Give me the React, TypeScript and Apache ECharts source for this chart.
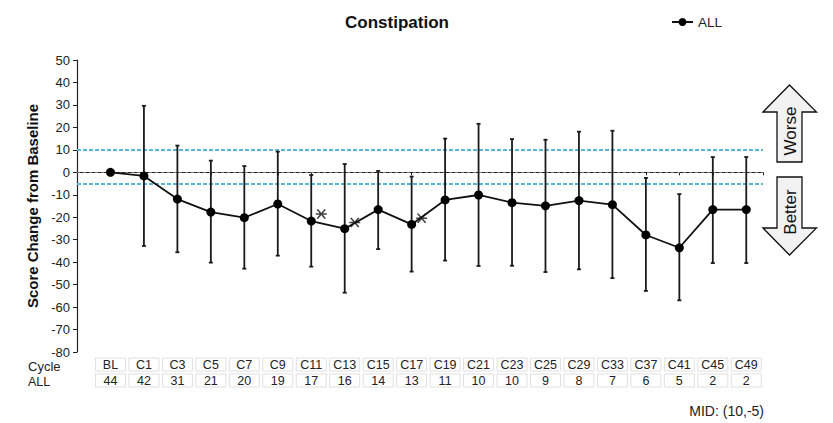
import React, { useEffect, useRef } from "react";
import * as echarts from "echarts";

const cycles = ["BL", "C1", "C3", "C5", "C7", "C9", "C11", "C13", "C15", "C17", "C19", "C21", "C23", "C25", "C29", "C33", "C37", "C41", "C45", "C49"];
const counts = [44, 42, 31, 21, 20, 19, 17, 16, 14, 13, 11, 10, 10, 9, 8, 7, 6, 5, 2, 2];
const means = [0, -1.6, -11.9, -17.7, -20.2, -14.1, -21.7, -25.1, -16.6, -23.2, -12.3, -10.1, -13.5, -14.9, -12.6, -14.4, -27.9, -33.6, -16.6, -16.6];
const upper = [null, 29.6, 11.9, 5.2, 2.8, 9.2, -1.2, 3.7, 0.6, -1.9, 15.0, 21.6, 14.8, 14.5, 18.1, 18.5, -2.5, -9.7, 6.8, 6.8];
const lower = [null, -32.8, -35.6, -40.2, -42.9, -37.1, -42.0, -53.6, -34.2, -44.2, -39.3, -41.7, -41.6, -44.4, -43.2, -47.1, -52.8, -57.0, -40.4, -40.4];
const sigCycles = ["C11", "C13", "C17"];
const sigValues = [-18.6, -22.3, -20.5];
const yTicks = { min: -80, max: 50, interval: 10 };
const midLines = [10, -5];

const FONT = "'Liberation Sans', Arial, sans-serif";
const ASTERISK =
  "path://M0,8.5L20,8.5L20,11.5L0,11.5Z M1.5,1.5L4,0L18.5,18.5L16,20Z M16,0L18.5,1.5L4,20L1.5,18.5Z";

export default function App() {
  const ref = useRef<HTMLDivElement>(null);
  useEffect(() => {
    document.body.style.margin = "0";
    const chart = echarts.init(ref.current!, null, { renderer: "svg" });
    const pos = (i: number) => i + 1;
    const lineData = means.map((m, i) => [pos(i), m]);
    const errData = cycles
      .map((_, i) => (upper[i] == null ? null : [pos(i), lower[i], upper[i]]))
      .filter((d) => d !== null);
    const starData = sigCycles.map((c, k) => [pos(cycles.indexOf(c)) + 0.3, sigValues[k]]);
    const tableFmt = (arr: (string | number)[]) => (v: number) => {
      const i = Math.round(v);
      if (Math.abs(v - i) > 1e-6 || i < 1 || i > arr.length) return "";
      return `{c|${arr[i - 1]}}`;
    };
    const tableAxis = (arr: (string | number)[], offset: number) => ({
      type: "value",
      min: 0,
      max: 20.5,
      interval: 1,
      position: "bottom",
      offset,
      axisLine: { show: false },
      axisTick: { show: false },
      splitLine: { show: false },
      axisLabel: {
        margin: 6,
        formatter: tableFmt(arr),
        rich: {
          c: {
            width: 30,
            height: 13,
            lineHeight: 13,
            align: "center",
            verticalAlign: "middle",
            borderColor: "#e0e0e0",
            borderWidth: 1,
            fontSize: 12.5,
            color: "#222",
            fontFamily: FONT,
          },
        },
      },
    });

    chart.setOption({
      animation: false,
      textStyle: { fontFamily: FONT },
      title: {
        text: "Constipation",
        left: 392,
        top: 9,
        textAlign: "center",
        textStyle: { fontSize: 17, fontWeight: "bold", color: "#111", fontFamily: FONT },
      },
      legend: {
        left: 666,
        top: 10,
        itemWidth: 21,
        itemHeight: 10,
        itemGap: 4,
        textStyle: { fontSize: 13.5, color: "#222", fontFamily: FONT },
        data: ["ALL"],
      },
      grid: { left: 77, right: 70, top: 60, bottom: 71 },
      xAxis: [
        {
          type: "value",
          min: 0,
          max: 20.5,
          interval: 1,
          axisLine: { lineStyle: { color: "#222", width: 1.2 } },
          axisTick: { length: 3, lineStyle: { color: "#222" } },
          axisLabel: { show: false },
          splitLine: { show: false },
        },
        tableAxis(cycles, 0),
        tableAxis(counts, 16),
      ],
      yAxis: {
        type: "value",
        min: yTicks.min,
        max: yTicks.max,
        interval: yTicks.interval,
        name: "Score Change from Baseline",
        nameLocation: "middle",
        nameGap: 34,
        nameTextStyle: { fontSize: 15, fontWeight: "bold", color: "#111", fontFamily: FONT },
        axisLine: { show: true, lineStyle: { color: "#222", width: 1.2 } },
        axisTick: { show: true, length: 4, lineStyle: { color: "#222" } },
        axisLabel: { fontSize: 13, color: "#222", margin: 7, fontFamily: FONT },
        splitLine: { show: false },
      },
      graphic: [
        {
          type: "polygon",
          shape: {
            points: [[763, 112], [789.5, 85], [816.5, 112], [802, 112], [802, 162], [777, 162], [777, 112]],
          },
          style: { fill: "#f2f2f2", stroke: "#111", lineWidth: 1.3 },
        },
        {
          type: "polygon",
          shape: {
            points: [[777, 177], [802, 177], [802, 228], [816.5, 228], [789.5, 255], [763, 228], [777, 228]],
          },
          style: { fill: "#f2f2f2", stroke: "#111", lineWidth: 1.3 },
        },
        {
          type: "text",
          x: 790,
          y: 131,
          rotation: Math.PI / 2,
          style: { text: "Worse", fontSize: 17, fill: "#111", align: "center", verticalAlign: "middle", fontFamily: FONT },
        },
        {
          type: "text",
          x: 790,
          y: 212,
          rotation: Math.PI / 2,
          style: { text: "Better", fontSize: 17, fill: "#111", align: "center", verticalAlign: "middle", fontFamily: FONT },
        },
        {
          type: "text",
          x: 28,
          y: 366,
          style: { text: "Cycle", fontSize: 13, fill: "#222", verticalAlign: "middle", fontFamily: FONT },
        },
        {
          type: "text",
          x: 28,
          y: 382,
          style: { text: "ALL", fontSize: 12.5, fill: "#222", verticalAlign: "middle", fontFamily: FONT },
        },
        {
          type: "text",
          x: 764,
          y: 411,
          style: { text: "MID: (10,-5)", fontSize: 14, fill: "#222", align: "right", verticalAlign: "middle", fontFamily: FONT },
        },
      ],
      series: [
        {
          type: "custom",
          name: "err",
          renderItem: (params: any, api: any) => {
            const x = api.value(0);
            const lo = api.coord([x, api.value(1)]);
            const hi = api.coord([x, api.value(2)]);
            const st = { stroke: "#1a1a1a", lineWidth: 1.8 };
            return {
              type: "group",
              children: [
                { type: "line", shape: { x1: lo[0], y1: lo[1], x2: hi[0], y2: hi[1] }, style: st },
                { type: "line", shape: { x1: hi[0] - 2, y1: hi[1], x2: hi[0] + 2, y2: hi[1] }, style: st },
                { type: "line", shape: { x1: lo[0] - 2, y1: lo[1], x2: lo[0] + 2, y2: lo[1] }, style: st },
              ],
            };
          },
          data: errData,
          z: 3,
          silent: true,
        },
        {
          type: "line",
          name: "ALL",
          data: lineData,
          symbol: "circle",
          symbolSize: 9,
          itemStyle: { color: "#000" },
          lineStyle: { color: "#111", width: 1.8 },
          z: 4,
          markLine: {
            silent: true,
            symbol: "none",
            label: { show: false },
            z: 1,
            data: [
              { yAxis: 0, lineStyle: { color: "#777", type: [3, 3], width: 1 } },
              ...midLines.map((v) => ({ yAxis: v, lineStyle: { color: "#5ab4d6", type: [4, 2], width: 2 } })),
            ],
          },
        },
        {
          type: "scatter",
          name: "sig",
          data: starData,
          symbol: ASTERISK,
          symbolSize: [11, 10],
          itemStyle: { color: "#111" },
          z: 5,
          silent: true,
        },
      ],
    });
    return () => chart.dispose();
  }, []);
  return <div ref={ref} style={{ width: 833, height: 423 }} />;
}
